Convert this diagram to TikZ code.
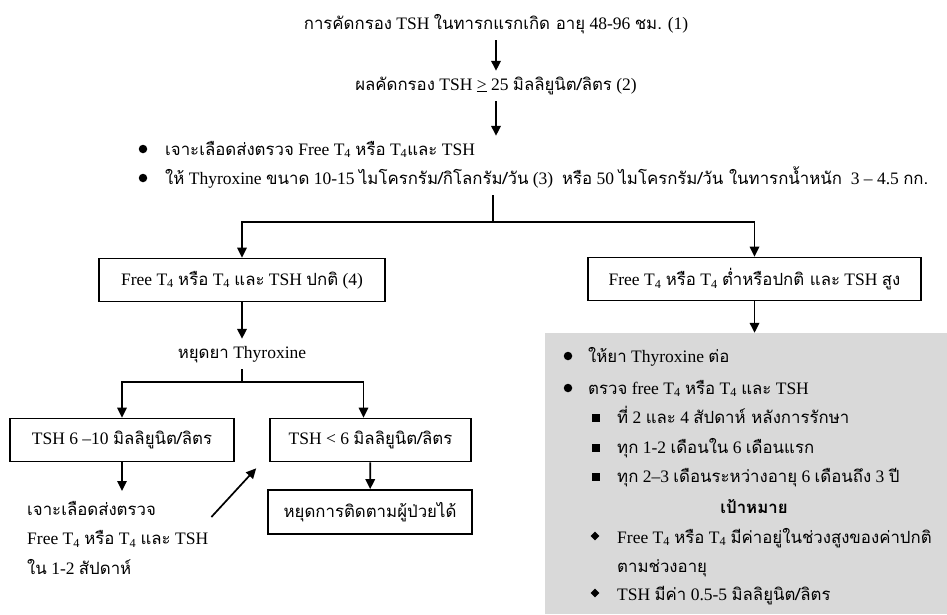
\documentclass[tikz,border=0pt]{standalone}
\usepackage{fontspec}
\setmainfont{Liberation Serif}
\newfontfamily\thfont[Script=Thai,Scale=0.96]{Loma}
\usetikzlibrary{arrows.meta,shapes.geometric}
\definecolor{panelgray}{RGB}{217,217,217}
\newcommand\Tq{T\textsubscript{4}}

\begin{document}
\begin{tikzpicture}[x=1pt,y=-1pt,font=\fontsize{17.5}{20}\selectfont,box/.style={draw,line width=1.7pt,minimum height=43pt,inner sep=0pt},txt/.style={inner xsep=0pt,inner ysep=6pt,text height=13pt,text depth=5pt},arr/.style={-{Triangle[length=10pt,width=9.5pt]},line width=1.7pt},ln/.style={line width=1.7pt},dot/.style={circle,fill,inner sep=0pt,minimum size=8.5pt},sq/.style={rectangle,fill,inner sep=0pt,minimum size=8pt},dia/.style={diamond,fill,inner sep=0pt,minimum size=9pt}]
\useasboundingbox (0,0) rectangle (947,614);

\node[fill=panelgray,minimum width=402pt,minimum height=281pt,inner sep=0pt] (g) at (746,473.5) {};

\node[txt,anchor=base] (t1) at (496,29) {{\thfont การคัดกรอง} TSH {\thfont ในทารกแรกเกิด อายุ} 48-96 {\thfont ชม.} (1)};
\node[txt,anchor=base] (t2) at (496,90) {{\thfont ผลคัดกรอง} TSH \underline{>} 25 {\thfont มิลลิยูนิต/ลิตร} (2)};
\node[dot] (d1) at (143,149) {};
\node[txt,anchor=base west] (b1) at (165,155) {{\thfont เจาะเลือดส่งตรวจ} Free \Tq{} {\thfont หรือ} \Tq{\thfont และ} TSH};
\node[dot] (d2) at (143,178) {};
\node[txt,anchor=base west] (b2) at (165,184) {{\thfont ให้} Thyroxine {\thfont ขนาด} 10-15 {\thfont ไมโครกรัม/กิโลกรัม/วัน} (3)\ \ {\thfont หรือ} 50 {\thfont ไมโครกรัม/วัน ในทารกน้ำหนัก}\ \ 3 -- 4.5 {\thfont กก.}};

\node[box,minimum width=286pt] (n1) at (242,280) {Free \Tq{} {\thfont หรือ} \Tq{} {\thfont และ} TSH {\thfont ปกติ} (4)};
\node[box,minimum width=333pt] (n2) at (754.5,279) {Free \Tq{} {\thfont หรือ} \Tq{} {\thfont ต่ำหรือปกติ และ} TSH {\thfont สูง}};
\node[txt,anchor=base] (s1) at (242,358) {{\thfont หยุดยา} Thyroxine};
\node[box,minimum width=224pt] (n3) at (122,440) {TSH 6 --10 {\thfont มิลลิยูนิต/ลิตร}};
\node[box,minimum width=201pt] (n4) at (370.5,440) {TSH < 6 {\thfont มิลลิยูนิต/ลิตร}};
\node[box,minimum width=204pt,minimum height=44pt] (n5) at (370,512) {{\thfont หยุดการติดตามผู้ป่วยได้}};
\node[anchor=north west,align=left,inner xsep=0pt,inner ysep=10pt,font=\fontsize{17.5}{29.5}\selectfont] (c1) at (27,491) {{\thfont เจาะเลือดส่งตรวจ}\\Free \Tq{} {\thfont หรือ} \Tq{} {\thfont และ} TSH\\{\thfont ใน} 1-2 {\thfont สัปดาห์}};

\node[dot] (d3) at (568,356) {};
\node[txt,anchor=base west] (g1) at (588,362) {{\thfont ให้ยา} Thyroxine {\thfont ต่อ}};
\node[dot] (d4) at (568,388) {};
\node[txt,anchor=base west] (g2) at (588,394) {{\thfont ตรวจ} free \Tq{} {\thfont หรือ} \Tq{} {\thfont และ} TSH};
\node[sq] (q1) at (596,418) {};
\node[txt,anchor=base west] (g3) at (617,423) {{\thfont ที่} 2 {\thfont และ} 4 {\thfont สัปดาห์ หลังการรักษา}};
\node[sq] (q2) at (596,448) {};
\node[txt,anchor=base west] (g4) at (617,453) {{\thfont ทุก} 1-2 {\thfont เดือนใน} 6 {\thfont เดือนแรก}};
\node[sq] (q3) at (596,477) {};
\node[txt,anchor=base west] (g5) at (617,482) {{\thfont ทุก} 2--3 {\thfont เดือนระหว่างอายุ} 6 {\thfont เดือนถึง} 3 {\thfont ปี}};
\node[txt,anchor=base] (g6) at (754,513) {\thfont\bfseries เป้าหมาย};
\node[dia] (q4) at (595,536) {};
\node[txt,anchor=base west] (g7) at (617,543) {Free \Tq{} {\thfont หรือ} \Tq{} {\thfont มีค่าอยู่ในช่วงสูงของค่าปกติ}};
\node[txt,anchor=base west] (g8) at (617,572) {{\thfont ตามช่วงอายุ}};
\node[dia] (q5) at (595,593) {};
\node[txt,anchor=base west] (g9) at (617,600) {TSH {\thfont มีค่า} 0.5-5 {\thfont มิลลิยูนิต/ลิตร}};

\draw[arr] (t1) -- (t2);
\draw[arr] (t2.south) -- (t2.south |- b1.north);
\coordinate (sp) at (493,222);
\draw[ln] (b2.south -| sp) -- (sp);
\draw[arr] (sp) -| (n1);
\draw[arr] (sp) -| (n2);
\draw[arr] (n1) -- (s1);
\coordinate (sp2) at (242,382);
\draw[ln] (s1) -- (sp2);
\draw[arr] (sp2) -| (n3);
\draw[arr] (sp2) -| ([xshift=-7pt]n4.north);
\draw[arr] (n3) -- (n3.south |- c1.north);
\draw[arr] ([shift={(3,26)}]c1.north east) -- ([shift={(-13,6)}]n4.south west);
\draw[arr] (n4) -- (n5);
\draw[arr] (n2.south) -- (n2.south |- g.north);
\end{tikzpicture}
\end{document}
